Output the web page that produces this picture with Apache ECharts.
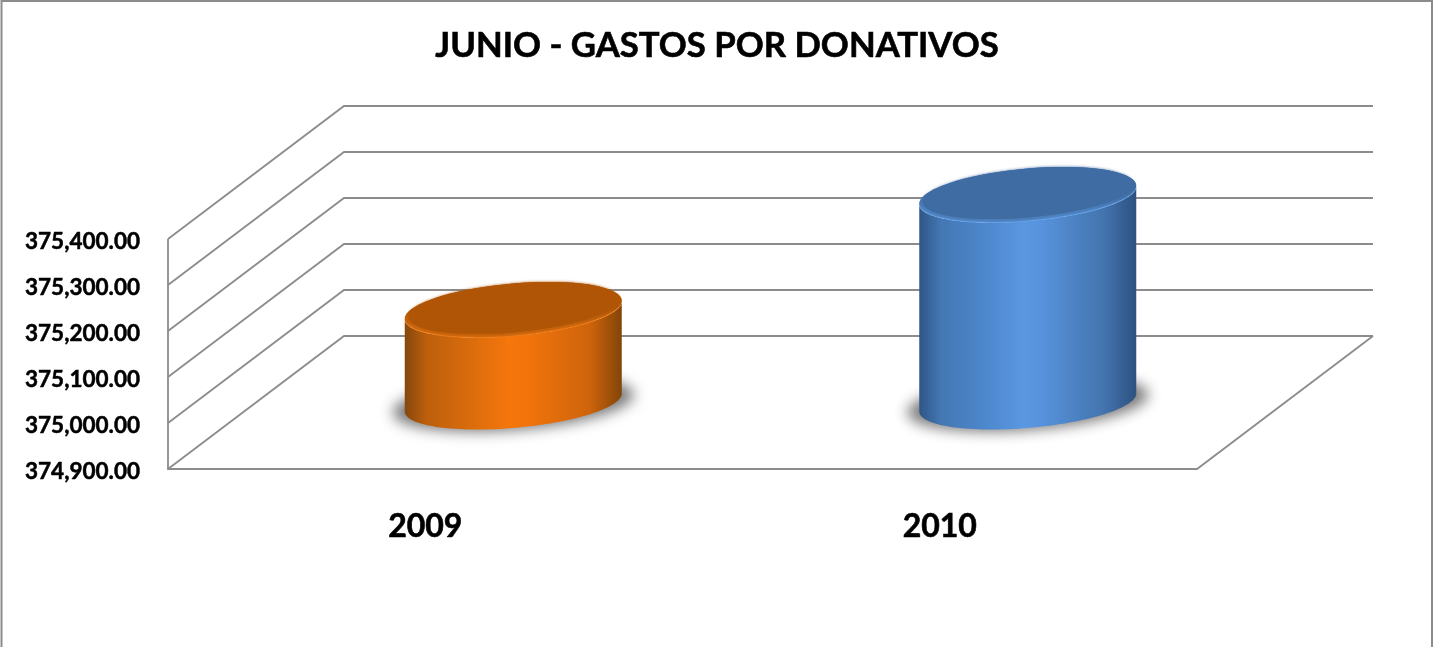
<!DOCTYPE html>
<html>
<head>
<meta charset="utf-8">
<title>JUNIO - GASTOS POR DONATIVOS</title>
<script src="https://cdn.jsdelivr.net/npm/echarts@6/dist/echarts.min.js"></script>
<style>
  html, body { margin: 0; padding: 0; background: #fff; }
  #chart { width: 1433px; height: 647px; }
</style>
</head>
<body>
<div id="chart"></div>
<script>
var titleText = 'JUNIO - GASTOS POR DONATIVOS';
var categories = ['2009', '2010'];
var gastos = [375100, 375350];
var yTicks = [374900, 375000, 375100, 375200, 375300, 375400];

var lineColor = '#8c8c8c';
var fontName = 'Lato, "Open Sans", sans-serif';
// depth of the fake 3D floor, in pixels
var depthX = 176, depthY = -133;
// cylinder outline
var radiusX = 108.5, radiusY = 25.5, shear = -9;
// the shadow caster is drawn off canvas so only its blur shows
var shadowShift = 3000;

var skins = [
  { top: '#b05506', rim: '#cf670c', glow: '#ee7c16',
    side: ['#85470c', '#bd5f0c', '#d96c0c', '#f5760c', '#f2740c', '#cf640b', '#834508'] },
  { top: '#3f6ca2', rim: '#4f84c4', glow: '#639fe6',
    side: ['#2f5587', '#4477b3', '#4d87cc', '#5a97e2', '#5793dc', '#4374ae', '#2d5180'] }
];

function sideStops(cols) {
  var pos = [0, 0.1, 0.3, 0.48, 0.56, 0.85, 1];
  return cols.map(function (c, i) { return { offset: pos[i], color: c }; });
}

function ellipsePts(cx, cy, rx, ry, s, from, to) {
  var pts = [];
  var n = 72;
  for (var i = 0; i <= n; i++) {
    var t = from + (to - from) * i / n;
    pts.push([cx + rx * Math.cos(t), cy + ry * Math.sin(t) + s * Math.cos(t)]);
  }
  return pts;
}

function renderWall(params, api) {
  var box = params.coordSys;
  var y = api.coord([0, api.value(1)])[1];
  var style = { stroke: lineColor, lineWidth: 1.8, fill: null };
  var left = box.x, right = box.x + box.width;
  var kids = [{
    type: 'polyline',
    shape: { points: [[left, y], [left + depthX, y + depthY], [right + depthX, y + depthY]] },
    style: style
  }];
  if (params.dataIndex === 0) {
    // axis edge and floor
    kids.push({
      type: 'polyline',
      shape: { points: [[left, box.y], [left, y], [right, y], [right + depthX, y + depthY]] },
      style: style
    });
  }
  return { type: 'group', children: kids };
}

function renderCylinder(params, api) {
  var skin = skins[params.dataIndex];
  var top = api.coord([api.value(0), api.value(1)]);
  var base = api.coord([api.value(0), yTicks[0]]);
  var cx = top[0] + depthX / 2;
  var topY = top[1] + depthY / 2;
  var baseY = base[1] + depthY / 2;

  var body = ellipsePts(cx, baseY, radiusX, radiusY, shear, 0, Math.PI)
    .concat(ellipsePts(cx, topY, radiusX, radiusY, shear, Math.PI, 0));

  return {
    type: 'group',
    children: [
      {
        type: 'polygon',
        shape: { points: ellipsePts(cx - shadowShift, baseY + 1, radiusX + 12, radiusY + 1, shear, 0, Math.PI * 2) },
        style: { fill: '#000', shadowBlur: 14, shadowOffsetX: shadowShift, shadowColor: 'rgba(105,105,105,0.9)' }
      },
      {
        type: 'polygon',
        shape: { points: body },
        style: { fill: { type: 'linear', x: 0, y: 0, x2: 1, y2: 0, colorStops: sideStops(skin.side) } }
      },
      {
        type: 'polygon',
        shape: { points: ellipsePts(cx, topY, radiusX, radiusY + 0.5, shear, 0, Math.PI * 2) },
        style: { fill: skin.glow }
      },
      {
        type: 'polygon',
        shape: { points: ellipsePts(cx, topY - 1, radiusX, radiusY + 0.5, shear, 0, Math.PI * 2) },
        style: {
          fill: {
            type: 'linear', x: 0, y: 0, x2: 0, y2: 1,
            colorStops: [
              { offset: 0, color: skin.top },
              { offset: 0.45, color: skin.top },
              { offset: 0.8, color: skin.rim },
              { offset: 1, color: skin.rim }
            ]
          }
        }
      },
      {
        type: 'polygon',
        shape: { points: ellipsePts(cx, topY - 2.5, radiusX - 3.5, radiusY - 1, shear, 0, Math.PI * 2) },
        style: { fill: skin.top, shadowBlur: 3, shadowColor: skin.top }
      }
    ]
  };
}

var myChart = echarts.init(document.getElementById('chart'));
var option = {
  animation: false,
  backgroundColor: '#fff',
  title: {
    text: titleText,
    left: 712,
    top: 23,
    textAlign: 'center',
    textStyle: {
      fontFamily: fontName, fontWeight: 'bold', fontSize: 34.7, color: '#000',
      textBorderColor: '#000', textBorderWidth: 0.6
    }
  },
  graphic: [{
    type: 'rect',
    silent: true,
    shape: { x: 1.5, y: 1, width: 1430.5, height: 700 },
    style: { fill: 'none', stroke: '#8c8c8c', lineWidth: 2 }
  }],
  grid: { left: 168, top: 239, width: 1029, height: 230 },
  xAxis: {
    type: 'category',
    data: categories,
    axisLine: { show: false },
    axisTick: { show: false },
    axisLabel: {
      margin: 42,
      fontFamily: fontName, fontWeight: 'bold', fontSize: 32, color: '#000',
      textBorderColor: '#000', textBorderWidth: 0.6
    }
  },
  yAxis: {
    type: 'value',
    min: 374900,
    max: 375400,
    interval: 100,
    axisLine: { show: false },
    axisTick: { show: false },
    splitLine: { show: false },
    axisLabel: {
      margin: 28,
      formatter: function (v) {
        return '{n|' + v.toLocaleString('en-US', { minimumFractionDigits: 2, maximumFractionDigits: 2 }) + '}';
      },
      rich: {
        n: {
          padding: [6, 0, 0, 0],
          fontFamily: fontName, fontWeight: 'bold', fontSize: 22.5, color: '#000',
          textBorderColor: '#000', textBorderWidth: 0.5
        }
      }
    }
  },
  series: [
    {
      type: 'custom',
      z: 1,
      silent: true,
      clip: false,
      renderItem: renderWall,
      encode: { x: 0, y: 1 },
      data: yTicks.map(function (v) { return [0, v]; })
    },
    {
      type: 'custom',
      z: 2,
      silent: true,
      clip: false,
      renderItem: renderCylinder,
      encode: { x: 0, y: 1 },
      data: gastos.map(function (v, i) { return [i, v]; })
    }
  ]
};
myChart.setOption(option);
</script>
</body>
</html>
